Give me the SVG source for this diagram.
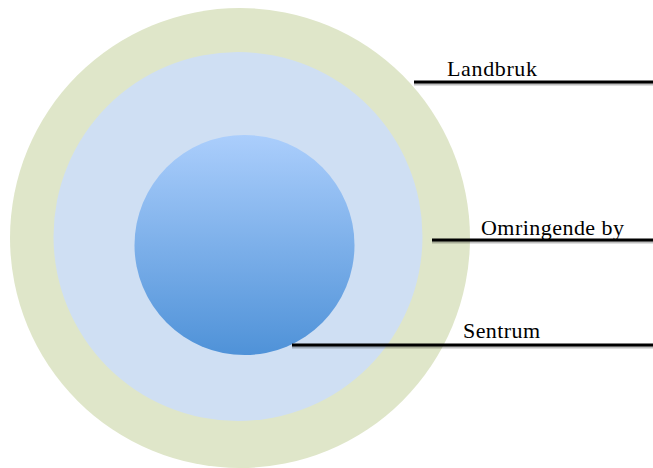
<svg xmlns="http://www.w3.org/2000/svg" width="653" height="468" viewBox="0 0 653 468">
<defs>
<linearGradient id="core" x1="0" y1="0" x2="0" y2="1">
<stop offset="0" stop-color="#abcefc"/>
<stop offset="1" stop-color="#4f92d8"/>
</linearGradient>
<style>
.lead{stroke:#000;stroke-width:3;fill:none}
.shadow{stroke:#000;stroke-opacity:0.25;stroke-width:3;fill:none}
.lbl{font-family:"Liberation Serif","Times New Roman",serif;font-size:22px;fill:#000}
</style>
</defs>
<rect width="653" height="468" fill="#fff"/>
<g id="landbruk-ring"><circle cx="240" cy="238" r="230" fill="#dfe6c9"/></g>
<g id="omringende-ring"><circle cx="238" cy="236.5" r="184.5" fill="#cfdff3"/></g>
<g id="sentrum-core"><circle cx="244.5" cy="245" r="110" fill="url(#core)"/></g>
<g id="connectors">
<line class="shadow" x1="414" y1="84" x2="653" y2="84"/>
<line class="lead" x1="414" y1="82" x2="653" y2="82"/>
<line class="shadow" x1="432" y1="242" x2="653" y2="242"/>
<line class="lead" x1="432" y1="240" x2="653" y2="240"/>
<line class="shadow" x1="292" y1="347" x2="653" y2="347"/>
<line class="lead" x1="292" y1="345" x2="653" y2="345"/>
</g>
<g id="labels">
<text class="lbl" x="447" y="76" textLength="90">Landbruk</text>
<text class="lbl" x="481" y="235" textLength="143">Omringende by</text>
<text class="lbl" x="463" y="338" textLength="77">Sentrum</text>
</g>
</svg>
